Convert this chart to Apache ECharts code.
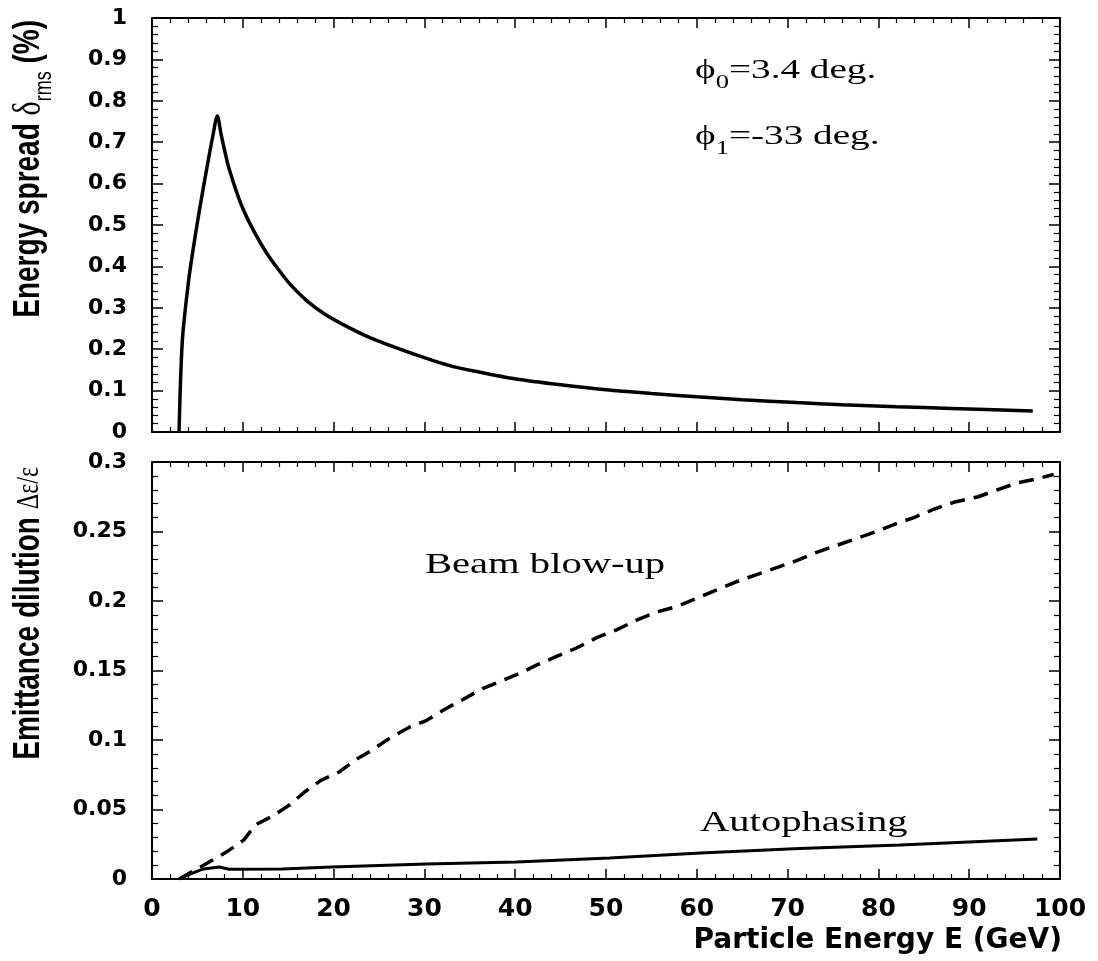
<!DOCTYPE html>
<html>
<head>
<meta charset="utf-8">
<script src="https://cdn.jsdelivr.net/npm/echarts@6/dist/echarts.min.js"></script>
<style>
  html, body { margin: 0; padding: 0; background: #fff; }
  #main { width: 1098px; height: 961px; }
</style>
</head>
<body>
<div id="main"></div>
<script>
// top panel: energy spread (%) vs particle energy (GeV)
const spreadE = [2.98, 3.34, 4.0, 4.45, 5.18, 6.1, 6.7, 7.2, 7.6, 8.0, 8.5, 9.6, 10.5, 11.6, 12.6, 13.8, 15.2, 17.0, 19.0, 21.7, 24, 27.6, 32.7, 36, 40.1, 45, 50, 55, 60, 65, 71, 76, 82, 88, 97];
const spreadVal = [0, 0.22, 0.36, 0.43, 0.53, 0.645, 0.715, 0.763, 0.72, 0.68, 0.635, 0.562, 0.516, 0.470, 0.433, 0.396, 0.357, 0.318, 0.285, 0.252, 0.228, 0.198, 0.161, 0.145, 0.128, 0.114, 0.102, 0.093, 0.085, 0.078, 0.071, 0.066, 0.061, 0.057, 0.051];

// bottom panel: beam blow-up (dashed)
const blowE = [3.0, 6.1, 8.1, 10.1, 11.4, 13.2, 15.1, 16.8, 18.6, 20.6, 22.5, 24.3, 26.1, 28.3, 30.2, 32.2, 34.2, 36.4, 38.3, 40.5, 42.4, 44.5, 46.7, 49.1, 51.1, 53.3, 55.5, 57.8, 60, 62.2, 64.4, 66.6, 68.8, 71, 73.2, 75.4, 77.6, 79.8, 81.7, 83.9, 86.1, 88.3, 91, 93.1, 95.3, 97.5, 99.3];
const blowVal = [0, 0.0115, 0.019, 0.028, 0.039, 0.045, 0.053, 0.0626, 0.071, 0.077, 0.086, 0.093, 0.101, 0.109, 0.114, 0.122, 0.129, 0.137, 0.142, 0.148, 0.154, 0.160, 0.166, 0.174, 0.179, 0.186, 0.192, 0.196, 0.202, 0.208, 0.214, 0.219, 0.224, 0.229, 0.235, 0.240, 0.245, 0.250, 0.255, 0.260, 0.266, 0.271, 0.275, 0.280, 0.285, 0.288, 0.291];

// bottom panel: autophasing (solid)
const autoE = [3.0, 4.4, 5.5, 7.4, 8.5, 14.3, 19.8, 30.2, 40.1, 50.4, 60.4, 71.3, 82.4, 97.5];
const autoVal = [0, 0.004, 0.007, 0.0086, 0.007, 0.0072, 0.0086, 0.0108, 0.0122, 0.0151, 0.0187, 0.022, 0.0245, 0.0288];

const xTicks = { min: 0, max: 100, interval: 10 };

const pairs = (xs, ys) => xs.map((x, i) => [x, ys[i]]);

const tickFont = 'DejaVu Sans';
const lineCol = '#000';

// one x axis (ticks inside, ROOT style)
const makeX = (grid, pos, labels) => ({
    type: 'value', gridIndex: grid, position: pos,
    min: xTicks.min, max: xTicks.max, interval: xTicks.interval,
    axisLine: { show: true, onZero: false, lineStyle: { color: lineCol, width: 2 } },
    axisTick: { show: true, inside: true, length: 10, lineStyle: { color: lineCol, width: 1.5 } },
    minorTick: { show: true, splitNumber: 5, length: 5, lineStyle: { color: lineCol, width: 1.2 } },
    splitLine: { show: false },
    axisLabel: {
        show: labels, margin: 18, color: '#000',
        fontFamily: tickFont, fontWeight: 'bold', fontSize: 25
    }
});

const makeY = (grid, pos, max, interval, labels) => ({
    type: 'value', gridIndex: grid, position: pos,
    min: 0, max: max, interval: interval,
    axisLine: { show: true, onZero: false, lineStyle: { color: lineCol, width: 2 } },
    axisTick: { show: true, inside: true, length: 11, lineStyle: { color: lineCol, width: 1.5 } },
    minorTick: { show: true, splitNumber: 5, length: 6, lineStyle: { color: lineCol, width: 1.2 } },
    splitLine: { show: false },
    axisLabel: {
        show: labels, margin: 25, color: '#000',
        fontFamily: tickFont, fontWeight: 'bold', fontSize: 22
    }
});

const option = {
    backgroundColor: '#fff',
    animation: false,
    grid: [
        { left: 152, top: 18, width: 908, height: 414 },
        { left: 152, top: 462, width: 908, height: 417 }
    ],
    xAxis: [
        makeX(0, 'bottom', false),
        makeX(0, 'top', false),
        makeX(1, 'bottom', true),
        makeX(1, 'top', false)
    ],
    yAxis: [
        makeY(0, 'left', 1, 0.1, true),
        makeY(0, 'right', 1, 0.1, false),
        makeY(1, 'left', 0.3, 0.05, true),
        makeY(1, 'right', 0.3, 0.05, false)
    ],
    series: [
        {
            name: 'Energy spread', type: 'line', xAxisIndex: 0, yAxisIndex: 0,
            data: pairs(spreadE, spreadVal), symbol: 'none', smooth: 0.3,
            lineStyle: { color: '#000', width: 3.5 }
        },
        {
            name: 'Beam blow-up', type: 'line', xAxisIndex: 2, yAxisIndex: 2,
            data: pairs(blowE, blowVal), symbol: 'none', smooth: false,
            lineStyle: { color: '#000', width: 3.5, type: [15, 9] }
        },
        {
            name: 'Autophasing', type: 'line', xAxisIndex: 2, yAxisIndex: 2,
            data: pairs(autoE, autoVal), symbol: 'none', smooth: false,
            lineStyle: { color: '#000', width: 3 }
        }
    ],
    graphic: [
        // y axis names (rotated)
        {
            type: 'text', x: 29, y: 20, rotation: Math.PI / 2, scaleY: 1.35,
            style: {
                text: '{b|Energy spread }{g|δ}{s|rms}{b| (%)}',
                align: 'right', verticalAlign: 'middle',
                rich: {
                    b: { fontFamily: 'Liberation Sans', fontWeight: 'bold', fontSize: 28, fill: '#000', lineHeight: 40 },
                    g: { fontFamily: 'Liberation Serif', fontSize: 30, fill: '#000', lineHeight: 40 },
                    s: { fontFamily: 'Liberation Sans', fontSize: 18, fill: '#000', verticalAlign: 'bottom' }
                }
            }
        },
        {
            type: 'text', x: 29, y: 467, rotation: Math.PI / 2, scaleY: 1.35,
            style: {
                text: '{b|Emittance dilution }{g|Δε/ε}',
                align: 'right', verticalAlign: 'middle',
                rich: {
                    b: { fontFamily: 'Liberation Sans', fontWeight: 'bold', fontSize: 28, fill: '#000' },
                    g: { fontFamily: 'Liberation Serif', fontSize: 24, fill: '#000' }
                }
            }
        },
        // x axis name
        {
            type: 'text', x: 1062, y: 941,
            style: {
                text: 'Particle Energy E (GeV)', align: 'right', verticalAlign: 'middle',
                fontFamily: tickFont, fontWeight: 'bold', fontSize: 28, fill: '#000'
            }
        },
        // annotations
        {
            type: 'text', x: 695, y: 71, scaleX: 1.4,
            style: {
                text: '{a|ϕ}{s|0}{a|=3.4 deg.}', align: 'left', verticalAlign: 'middle',
                rich: {
                    a: { fontFamily: 'Liberation Serif', fontSize: 28, fill: '#000', lineHeight: 44 },
                    s: { fontFamily: 'Liberation Serif', fontSize: 19, fill: '#000', verticalAlign: 'bottom' }
                }
            }
        },
        {
            type: 'text', x: 695, y: 137, scaleX: 1.4,
            style: {
                text: '{a|ϕ}{s|1}{a|=-33 deg.}', align: 'left', verticalAlign: 'middle',
                rich: {
                    a: { fontFamily: 'Liberation Serif', fontSize: 28, fill: '#000', lineHeight: 44 },
                    s: { fontFamily: 'Liberation Serif', fontSize: 19, fill: '#000', verticalAlign: 'bottom' }
                }
            }
        },
        {
            type: 'text', x: 425, y: 565, scaleX: 1.4,
            style: {
                text: 'Beam blow-up', align: 'left', verticalAlign: 'middle',
                fontFamily: 'Liberation Serif', fontSize: 29, fill: '#000'
            }
        },
        {
            type: 'text', x: 700, y: 823, scaleX: 1.4,
            style: {
                text: 'Autophasing', align: 'left', verticalAlign: 'middle',
                fontFamily: 'Liberation Serif', fontSize: 29, fill: '#000'
            }
        }
    ]
};

const chart = echarts.init(document.getElementById('main'));
chart.setOption(option);
</script>
</body>
</html>
